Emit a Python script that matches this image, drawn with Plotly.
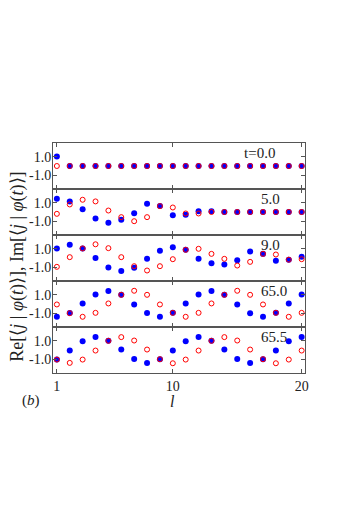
import plotly.graph_objects as go
from plotly.subplots import make_subplots

sites = list(range(1, 21))
times = ["t=0.0", "5.0", "9.0", "65.0", "65.5"]

re_t0 = [1.03] + [0.0] * 19
im_t0 = [0.0] * 20

re_t5 = [1.44, 1.15, 0.31, -0.71, -1.18, -0.85, -0.13, 0.89, 0.64, -0.35,
         -0.31, 0.09, 0.09, 0.0, 0.0, 0.0, 0.0, 0.0, 0.0, 0.0]
im_t5 = [-0.2, 0.82, 1.33, 1.15, 0.16, -0.56, -1.0, -0.56, 0.64, 0.49,
         -0.16, -0.16, 0.0, 0.0, 0.0, 0.0, 0.0, 0.0, 0.0, 0.0]

re_t9 = [1.04, 1.44, 1.04, 0.0, -1.04, -1.4, -1.07, -0.09, 0.78, 1.18,
         0.89, -0.09, -0.56, -0.71, -0.24, 0.71, 0.45, -0.31, -0.2, 0.13]
im_t9 = [-0.96, 0.09, 1.04, 1.49, 1.07, 0.09, -0.89, -1.36, -0.89, -0.13,
         0.89, 1.0, 0.45, -0.09, -0.82, -0.42, 0.45, 0.38, -0.18, -0.13]

re_t65 = [-1.39, -0.99, 0.06, 1.04, 1.41, 1.01, -0.05, -0.99, -1.39, -0.96,
          0.06, 1.04, 1.41, 1.0, -0.05, -1.0, -1.39, -0.96, 0.06, 1.04]
im_t65 = [-0.05, -1.0, -1.39, -0.96, 0.06, 1.0, 1.44, 1.0, -0.05, -0.96,
          -1.39, -0.96, 0.06, 1.0, 1.44, 1.0, -0.05, -0.96, -1.39, -0.96]

re_t655 = [-1.04, -0.06, 0.96, 1.4, 1.0, 0.05, -0.97, -1.4, -1.0, -0.06,
           0.96, 1.4, 1.0, 0.05, -0.97, -1.4, -1.0, -0.06, 0.96, 1.4]
im_t655 = [-1.04, -1.4, -1.04, -0.06, 1.0, 1.4, 1.03, 0.05, -1.0, -1.44,
           -1.04, -0.06, 1.0, 1.4, 1.03, 0.05, -1.0, -1.44, -1.04, -0.06]

re_all = [re_t0, re_t5, re_t9, re_t65, re_t655]
im_all = [im_t0, im_t5, im_t9, im_t65, im_t655]

y_ticks = [1.0, -1.0]
y_ticktext = ["1.0", "-1.0"]
x_ticks = [1, 10, 20]

SERIF = "Liberation Serif"
FRAME = "#555555"
TXT = "#222222"

fig = make_subplots(rows=5, cols=1, shared_xaxes=True, vertical_spacing=0)

for i in range(5):
    r = i + 1
    fig.add_trace(go.Scatter(x=sites, y=re_all[i], mode="markers",
                             marker=dict(color="#0000ff", size=6, line=dict(width=0)),
                             showlegend=False, hoverinfo="skip"), row=r, col=1)
    fig.add_trace(go.Scatter(x=sites, y=im_all[i], mode="markers",
                             marker=dict(color="rgba(0,0,0,0)", size=5,
                                         line=dict(color="#ff0000", width=1)),
                             showlegend=False, hoverinfo="skip"), row=r, col=1)
    fig.update_yaxes(range=[-2.5, 2.5], tickvals=y_ticks, ticktext=y_ticktext,
                     ticks="inside", ticklen=4, tickcolor=FRAME, showline=True,
                     linecolor=FRAME, linewidth=1, mirror="ticks", showgrid=False,
                     zeroline=False, ticklabelstandoff=-2,
                     tickfont=dict(family=SERIF, size=14, color=TXT),
                     row=r, col=1)
    fig.update_xaxes(range=[0.7, 20.26], tickvals=x_ticks, ticks="inside", ticklen=4,
                     tickcolor=FRAME, showline=True, linecolor=FRAME, linewidth=1,
                     mirror="ticks", showgrid=False, zeroline=False,
                     showticklabels=(r == 5),
                     tickfont=dict(family=SERIF, size=14, color=TXT),
                     row=r, col=1)
    yname = "y" if r == 1 else f"y{r}"
    xname = "x" if r == 1 else f"x{r}"
    fig.add_annotation(text=times[i], xref=xname, yref=f"{yname} domain",
                       x=15.34 if i == 0 else 16.7, y=0.78, xanchor="left",
                       yanchor="middle", showarrow=False,
                       font=dict(family=SERIF, size=15, color=TXT))

fig.add_annotation(text="Re[⟨<i>j</i> | <i>φ</i>(<i>t</i>)⟩], Im[⟨<i>j</i> | <i>φ</i>(<i>t</i>)⟩]",
                   xref="paper", yref="paper", x=-0.14, y=0.461, textangle=-90,
                   xanchor="center", yanchor="middle", showarrow=False,
                   font=dict(family=SERIF, size=18, color=TXT))
fig.add_annotation(text="<i>l</i>", xref="paper", yref="paper", x=0.476, y=-0.126,
                   xanchor="center", yanchor="middle", showarrow=False,
                   font=dict(family=SERIF, size=16, color=TXT))
fig.add_annotation(text="(<i>b</i>)", xref="paper", yref="paper", x=-0.089, y=-0.12,
                   xanchor="center", yanchor="middle", showarrow=False,
                   font=dict(family=SERIF, size=15, color=TXT))

fig.update_layout(width=346, height=502, margin=dict(l=45, r=49, t=135, b=137),
                  paper_bgcolor="white", plot_bgcolor="white")

fig.write_html("out.html")
